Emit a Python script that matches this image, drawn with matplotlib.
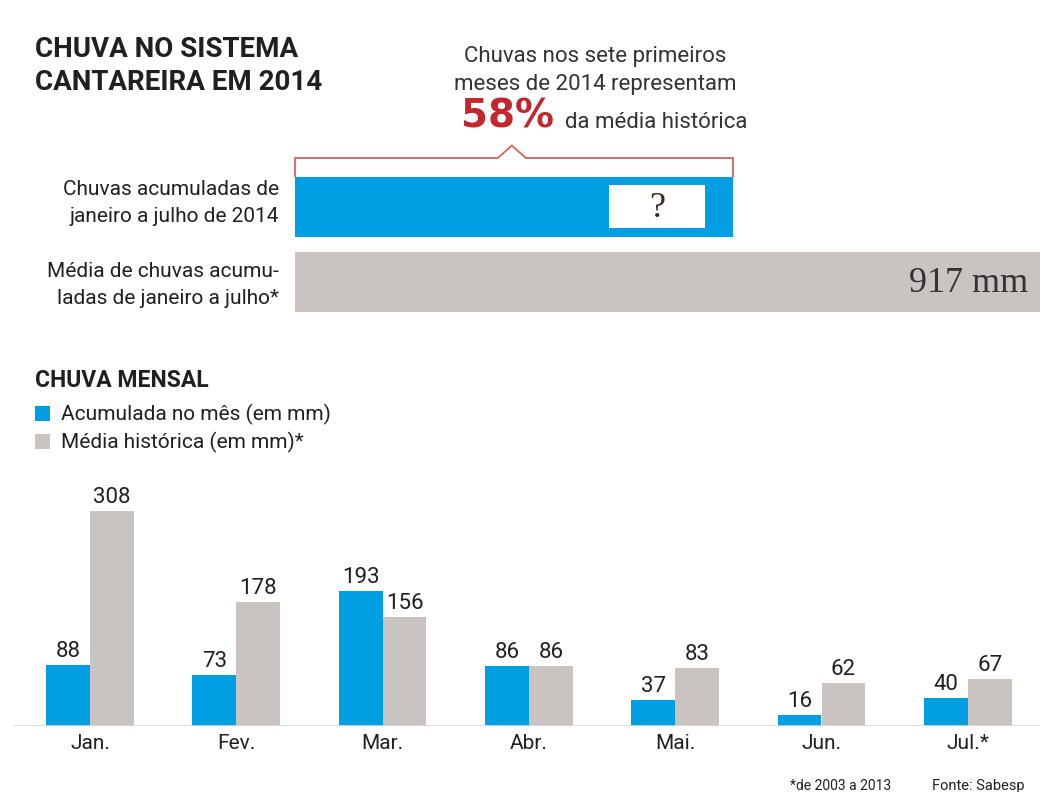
import numpy as np
import matplotlib.pyplot as plt
from matplotlib.patches import Rectangle

# dados
meses = ['Jan.', 'Fev.', 'Mar.', 'Abr.', 'Mai.', 'Jun.', 'Jul.*']
chuva_2014 = [88, 73, 193, 86, 37, 16, 40]
media_hist = [308, 178, 156, 86, 83, 62, 67]
total_2014 = sum(chuva_2014)          # 533 mm
media_total = 917                     # mm
pct = round(100 * total_2014 / media_total)

AZUL = '#009fe3'
CINZA = '#c9c3c1'
VERMELHO = '#c1272d'
TXT = '#231f20'

plt.rcParams['font.family'] = ['Roboto', 'DejaVu Sans']

W, H = 1040, 792
fig = plt.figure(figsize=(W / 100, H / 100), dpi=100)


def fx(x):
    return x / W


def fy(y):
    return 1 - y / H


# titulo e texto de destaque
fig.text(fx(35), fy(57), 'CHUVA NO SISTEMA', ha='left', va='baseline',
         fontsize=20, fontweight='bold', color=TXT)
fig.text(fx(35), fy(90), 'CANTAREIRA EM 2014', ha='left', va='baseline',
         fontsize=20, fontweight='bold', color=TXT)
fig.text(fx(595), fy(62), 'Chuvas nos sete primeiros', ha='center', va='baseline',
         fontsize=16, color='#333333')
fig.text(fx(595), fy(90), 'meses de 2014 representam', ha='center', va='baseline',
         fontsize=16, color='#333333')
fig.text(fx(461), fy(128), f'{pct}%', ha='left', va='baseline', fontsize=28,
         fontweight='bold', family='DejaVu Sans', color=VERMELHO)
fig.text(fx(565), fy(128), 'da média histórica', ha='left', va='baseline',
         fontsize=16, color='#333333')

# barras acumuladas
ax1 = fig.add_axes([fx(295), fy(312), fx(1040 - 295), (312 - 177) / H])
escala = 438 / total_2014
ax1.barh([0], [total_2014], height=0.8, color=AZUL)
ax1.barh([1], [media_total], height=0.8, color=CINZA)
ax1.set_xlim(0, 745 / escala)
ax1.set_ylim(1.4, -0.4)
ax1.axis('off')

ax1.add_patch(Rectangle((total_2014 * 0.718, -0.287), total_2014 * 0.217, 0.573,
                        facecolor='white', edgecolor='none'))
ax1.text(total_2014 * 0.8265, 0.02, '?', ha='center', va='center', fontsize=26,
         family='Liberation Serif', color='#3a2a20')
ax1.text(733 / escala, 1.02, f'{media_total} mm', ha='right', va='center',
         fontsize=26, family='Liberation Serif', color='#333333')

# colchete vermelho
meio = total_2014 * 0.495
d = 17
bx = [0, 0, meio - d, meio, meio + d, total_2014, total_2014]
by = [-0.41, -0.653, -0.653, -0.82, -0.653, -0.653, -0.41]
ax1.plot(bx, by, color='#d4625f', lw=1.3, clip_on=False, solid_joinstyle='miter')

fig.text(fx(279), fy(195), 'Chuvas acumuladas de', ha='right', va='baseline', fontsize=15, color=TXT)
fig.text(fx(279), fy(222), 'janeiro a julho de 2014', ha='right', va='baseline', fontsize=15, color=TXT)
fig.text(fx(279), fy(277), 'Média de chuvas acumu-', ha='right', va='baseline', fontsize=15, color=TXT)
fig.text(fx(279), fy(304), 'ladas de janeiro a julho*', ha='right', va='baseline', fontsize=15, color=TXT)

# legenda
fig.text(fx(35), fy(387), 'CHUVA MENSAL', ha='left', va='baseline', fontsize=16.5,
         fontweight='bold', color=TXT)
fig.patches.append(Rectangle((fx(35), fy(421)), fx(15), 15 / H, facecolor=AZUL,
                             transform=fig.transFigure, figure=fig))
fig.patches.append(Rectangle((fx(35), fy(449)), fx(15), 15 / H, facecolor=CINZA,
                             transform=fig.transFigure, figure=fig))
fig.text(fx(61), fy(420), 'Acumulada no mês (em mm)', ha='left', va='baseline', fontsize=15, color=TXT)
fig.text(fx(61), fy(448), 'Média histórica (em mm)*', ha='left', va='baseline', fontsize=15, color=TXT)

# chuva mensal
passo = 146.3
ax2 = fig.add_axes([0, fy(726), 1, 230.4 / H])
x = np.arange(len(meses))
w = 0.30
b1 = ax2.bar(x - w / 2, chuva_2014, width=w, color=AZUL)
b2 = ax2.bar(x + w / 2, media_hist, width=w, color=CINZA)
ax2.set_xlim(-90 / passo, (W - 90) / passo)
ax2.set_ylim(0, 330)
for barras in (b1, b2):
    for r in barras:
        ax2.annotate(f'{int(r.get_height())}', (r.get_x() + r.get_width() / 2, r.get_height()),
                     xytext=(0, 2), textcoords='offset points', ha='center', va='bottom',
                     fontsize=16, color=TXT)
ax2.axhline(0, xmin=15 / W, xmax=1, color='#d8d8d8', lw=1.2)
for s in ax2.spines.values():
    s.set_visible(False)
ax2.set_yticks([])
ax2.set_xticks(x)
ax2.set_xticklabels(meses, fontsize=15, color=TXT)
ax2.tick_params(axis='x', length=0, pad=6)
ax2.patch.set_alpha(0)

fig.text(fx(790), fy(786), '*de 2003 a 2013', ha='left', va='center', fontsize=10, color=TXT)
fig.text(fx(1025), fy(786), 'Fonte: Sabesp', ha='right', va='center', fontsize=10.5, color=TXT)

fig.savefig('out.png', dpi=100)
